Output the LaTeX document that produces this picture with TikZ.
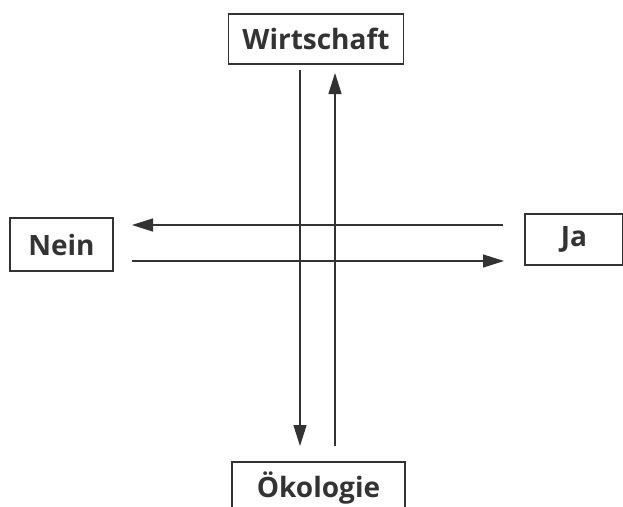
\documentclass[tikz,border=0pt]{standalone}
\usepackage{fontspec}
\setmainfont{Open Sans}
\usetikzlibrary{arrows.meta}
\definecolor{ink}{HTML}{333333}
\begin{document}
\begin{tikzpicture}[x=1pt,y=-1pt,
  box/.style={draw=ink,line width=1.3pt,text=ink,font=\fontsize{28}{32}\selectfont\bfseries,inner sep=0pt,anchor=center},
  arr/.style={draw=ink,line width=1.3pt,-{Triangle[length=21pt,width=13pt]}}]
\useasboundingbox (0,0) rectangle (623,506);
\clip (0,0) rectangle (623,506);
\fill[white] (0,0) rectangle (623,506);
\node[box,minimum width=175pt,minimum height=50pt] (w) at (316,39) {Wirtschaft};
\node[box,minimum width=103pt,minimum height=53pt] (n) at (61.5,244.5) {Nein};
\node[box,minimum width=98pt,minimum height=51pt] (j) at (574,239.5) {Ja};
\node[box,minimum width=173pt,minimum height=52pt] (o) at (318.5,488) {Ökologie};
\coordinate (a1s) at (300,70);
\coordinate (a1e) at (300,446);
\coordinate (a2s) at (335,446);
\coordinate (a2e) at (335,73);
\coordinate (a3s) at (503,225);
\coordinate (a3e) at (132,225);
\coordinate (a4s) at (132,261);
\coordinate (a4e) at (504,261);
\draw[arr] (a1s) -- (a1e);
\draw[arr] (a2s) -- (a2e);
\draw[arr] (a3s) -- (a3e);
\draw[arr] (a4s) -- (a4e);
\end{tikzpicture}
\end{document}
